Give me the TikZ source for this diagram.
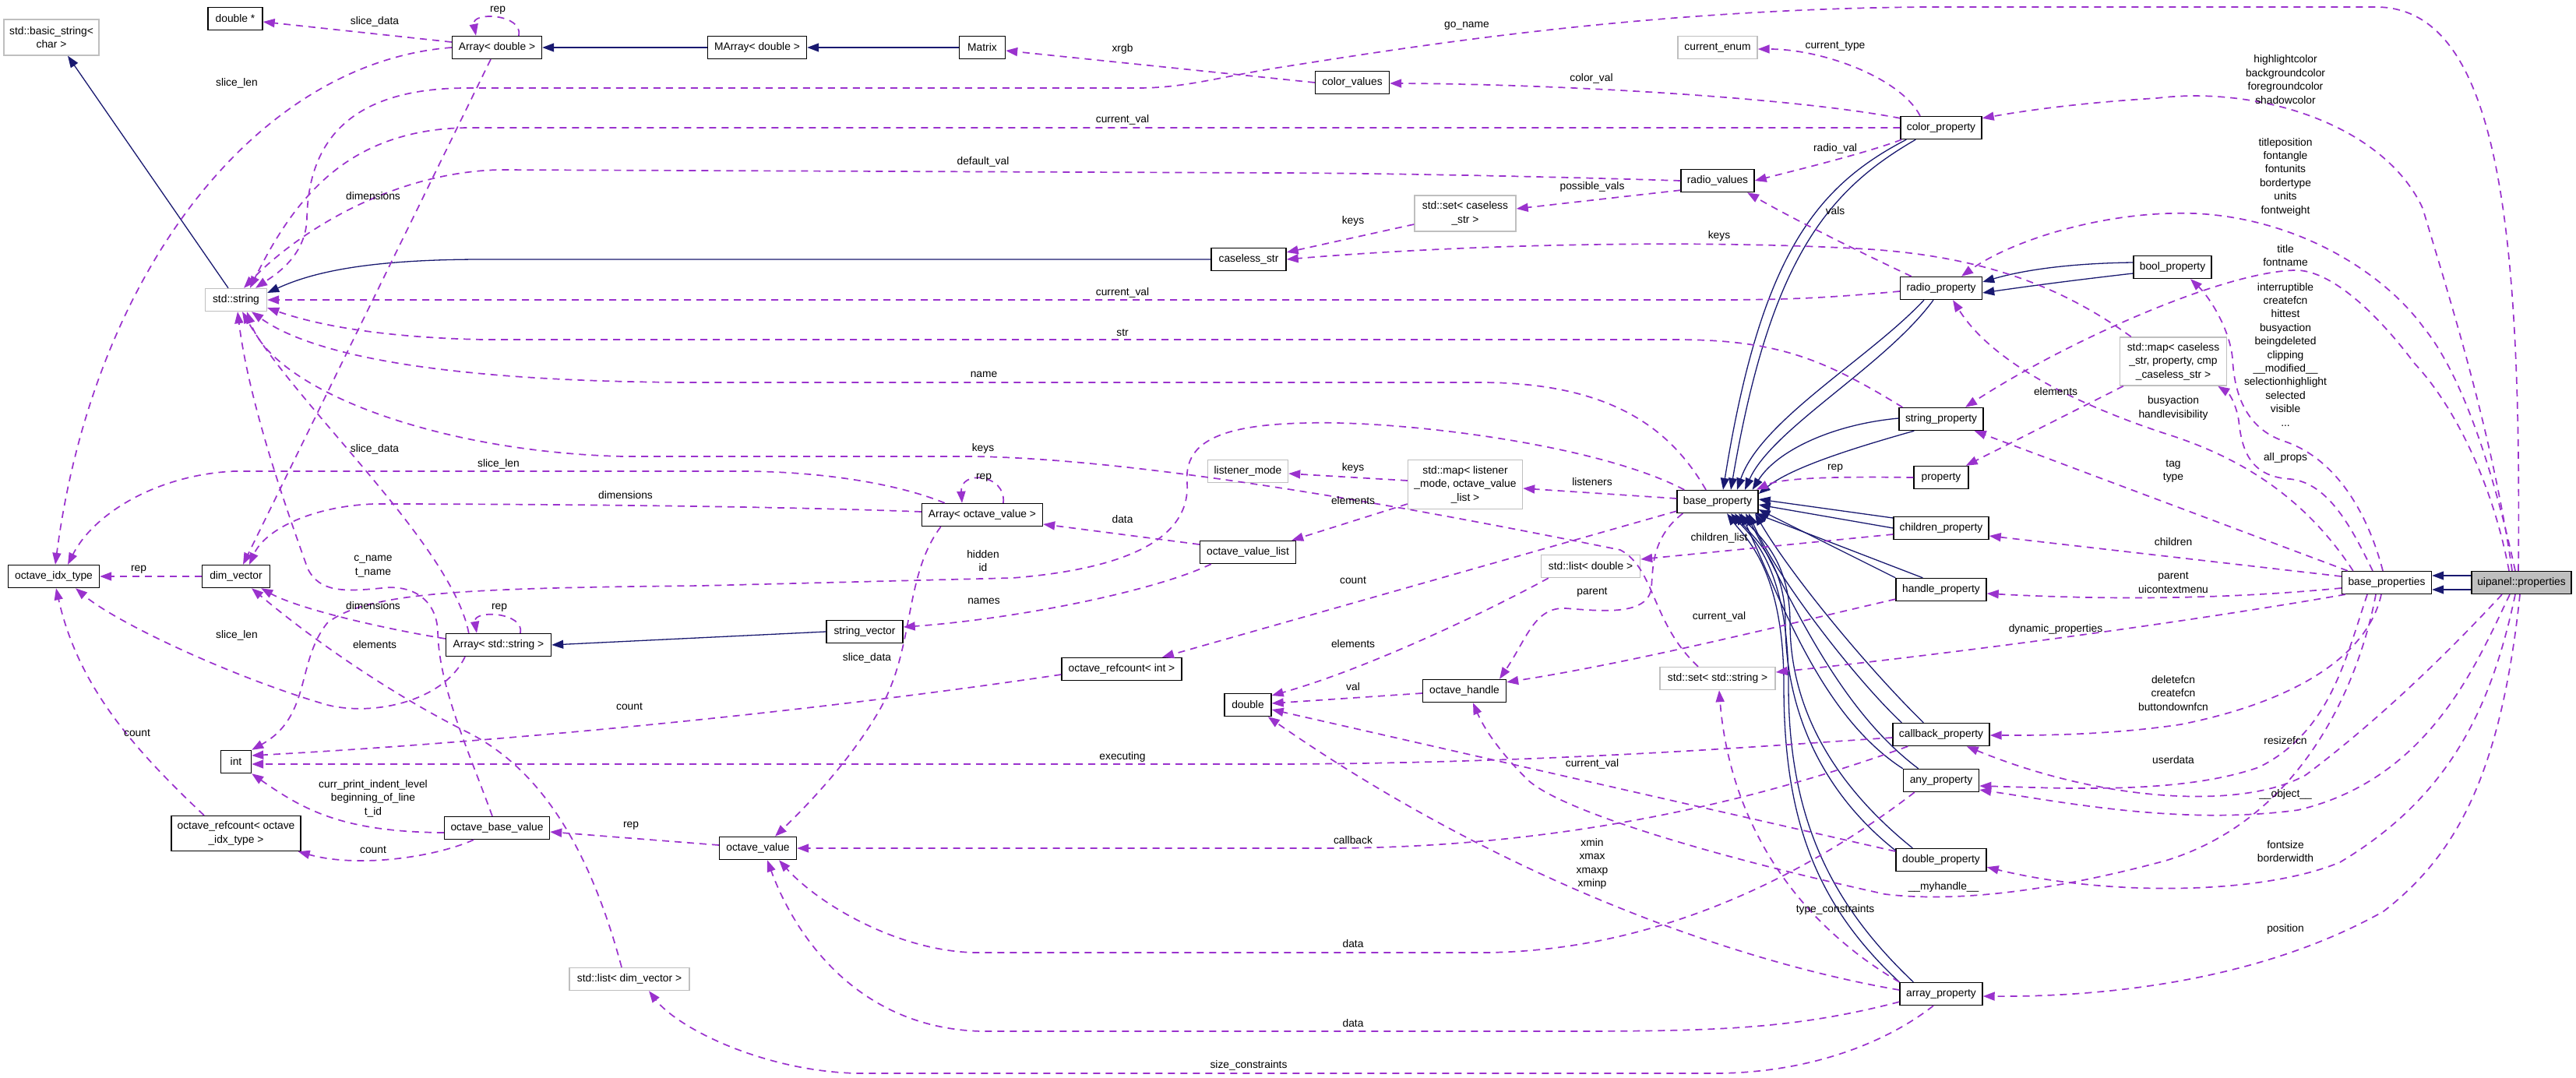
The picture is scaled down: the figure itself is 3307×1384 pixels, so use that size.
\documentclass[tikz,border=0pt]{standalone}
\usepackage{fontspec}
\setmainfont{Liberation Sans}
\usetikzlibrary{arrows.meta,calc}
\definecolor{navy}{HTML}{191970}
\definecolor{purp}{HTML}{9A32CD}
\definecolor{grayb}{HTML}{BFBFBF}
\newcommand{\dfont}{\fontsize{13.8pt}{17.4pt}\selectfont}
\tikzset{
 cls/.style={draw=black, line width=1.4pt, minimum height=29pt, inner sep=0pt, fill=white, font=\dfont, align=center},
 ext/.style={cls, draw=grayb},
 inh/.style={draw=navy, line width=1.3pt, -{Triangle[length=15pt,width=11pt]}},
 use/.style={draw=purp, line width=1.7pt, dash pattern=on 9pt off 7pt, -{Triangle[length=15pt,width=11pt]}},
 lbl/.style={font=\dfont, inner sep=0pt, align=center},
}
\begin{document}
\begin{tikzpicture}[x=1pt,y=-1pt]
\fill[white] (0,0) rectangle (3307,1384);
\useasboundingbox (0,0) rectangle (3307,1384);
% nodes
\node[ext, minimum width=122pt, minimum height=46pt] (bs) at (66,48) {std::basic\_string<\\char >};
\node[cls, minimum width=70pt] (dptr) at (302,24) {double *};
\node[cls, minimum width=115pt] (arrd) at (638,61) {Array< double >};
\node[cls, minimum width=127pt] (marr) at (972,61) {MArray< double >};
\node[cls, minimum width=59pt] (matrix) at (1261,61) {Matrix};
\node[cls, minimum width=95pt] (colv) at (1736,106) {color\_values};
\node[ext, minimum width=102pt] (cenum) at (2205,61) {current\_enum};
\node[cls, minimum width=104pt] (colp) at (2492,164) {color\_property};
\node[cls, minimum width=94pt] (radv) at (2205,232) {radio\_values};
\node[ext, minimum width=130pt, minimum height=46pt] (setcs) at (1881,274) {std::set< caseless\\\_str >};
\node[cls, minimum width=96pt] (cstr) at (1603,333) {caseless\_str};
\node[cls, minimum width=100pt] (boolp) at (2789,343) {bool\_property};
\node[cls, minimum width=105pt] (radp) at (2492,370) {radio\_property};
\node[ext, minimum width=79pt] (stdstr) at (303,385) {std::string};
\node[ext, minimum width=137pt, minimum height=62pt] (mapcs) at (2790,464) {std::map< caseless\\\_str, property, cmp\\\_caseless\_str >};
\node[cls, minimum width=108pt] (strp) at (2492,538) {string\_property};
\node[cls, minimum width=70pt] (propty) at (2492,613) {property};
\node[ext, minimum width=103pt] (lmode) at (1602,605) {listener\_mode};
\node[ext, minimum width=147pt, minimum height=63pt] (maplm) at (1881,622) {std::map< listener\\\_mode, octave\_value\\\_list >};
\node[cls, minimum width=104pt] (basep) at (2205,644) {base\_property};
\node[cls, minimum width=155pt] (arrov) at (1261,661) {Array< octave\_value >};
\node[cls, minimum width=122pt] (childp) at (2492,678) {children\_property};
\node[cls, minimum width=123pt] (ovl) at (1602,709) {octave\_value\_list};
\node[ext, minimum width=127pt] (listd) at (2042,727) {std::list< double >};
\node[cls, minimum width=117pt] (oit) at (69,740) {octave\_idx\_type};
\node[cls, minimum width=87pt] (dimv) at (303,740) {dim\_vector};
\node[cls, minimum width=115pt] (bprops) at (3064,748) {base\_properties};
\node[cls, minimum width=128pt, fill=grayb] (uip) at (3237,748) {uipanel::properties};
\node[cls, minimum width=116pt] (handp) at (2492,757) {handle\_property};
\node[cls, minimum width=98pt] (strvec) at (1110,811) {string\_vector};
\node[cls, minimum width=135pt] (arrstr) at (640,828) {Array< std::string >};
\node[cls, minimum width=154pt] (orint) at (1440,859) {octave\_refcount< int >};
\node[ext, minimum width=148pt] (setstr) at (2205,871) {std::set< std::string >};
\node[cls, minimum width=107pt] (oh) at (1880,887) {octave\_handle};
\node[cls, minimum width=60pt] (dbl) at (1602,905) {double};
\node[cls, minimum width=124pt] (cbp) at (2492,943) {callback\_property};
\node[cls, minimum width=39pt] (intn) at (303,978) {int};
\node[cls, minimum width=97pt] (anyp) at (2492,1002) {any\_property};
\node[cls, minimum width=135pt] (obv) at (638,1063) {octave\_base\_value};
\node[cls, minimum width=166pt, minimum height=45pt] (orit) at (303,1070) {octave\_refcount< octave\\\_idx\_type >};
\node[cls, minimum width=99pt] (ov) at (973,1089) {octave\_value};
\node[cls, minimum width=116pt] (dblp) at (2492,1104) {double\_property};
\node[ext, minimum width=154pt] (listdv) at (808,1257) {std::list< dim\_vector >};
\node[cls, minimum width=106pt] (arrp) at (2492,1276) {array\_property};

% inheritance
\draw[inh] ($(stdstr.north)+(-10,0)$) -- ($(bs.south)+(21,0)$);
\draw[inh] (marr.west) -- (arrd.east);
\draw[inh] (matrix.west) -- (marr.east);
\draw[inh] (cstr.west) -- (620,333) .. controls (470,333) and (400,350) .. ($(stdstr.east)+(0,-9)$);
\draw[inh] (strvec.west) -- (arrstr.east);
\draw[inh] ($(boolp.west)+(0,-6)$) .. controls (2660,338) and (2600,346) .. ($(radp.east)+(0,-8)$);
\draw[inh] ($(boolp.west)+(0,8)$) .. controls (2660,360) and (2600,368) .. ($(radp.east)+(0,6)$);
\draw[inh] ($(uip.west)+(0,-9)$) -- ($(bprops.east)+(0,-9)$);
\draw[inh] ($(uip.west)+(0,9)$) -- ($(bprops.east)+(0,9)$);
\draw[inh] ($(colp.south west)+(8,0)$) .. controls (2330,240) and (2260,330) .. ($(basep.north)+(7,0)$);
\draw[inh] ($(colp.south west)+(20,0)$) .. controls (2345,245) and (2272,335) .. ($(basep.north)+(17,0)$);
\draw[inh] ($(radp.south)+(-22,0)$) .. controls (2400,460) and (2260,540) .. ($(basep.north)+(25,0)$);
\draw[inh] ($(radp.south)+(-10,0)$) .. controls (2420,470) and (2275,550) .. ($(basep.north)+(35,0)$);
\draw[inh] ($(strp.west)+(0,-1)$) .. controls (2350,545) and (2280,580) .. ($(basep.north east)+(-8,0)$);
\draw[inh] ($(strp.south west)+(20,0)$) .. controls (2380,575) and (2300,600) .. ($(basep.east)+(0,-10)$);
\draw[inh] ($(childp.west)+(0,-13)$) -- ($(basep.east)+(0,-3)$);
\draw[inh] (childp.west) -- ($(basep.east)+(0,4)$);
\draw[inh] (handp.north west) -- ($(basep.east)+(0,10)$);
\draw[inh] ($(handp.north west)+(35,0)$) -- ($(basep.south east)+(-4,0)$);
\draw[inh] ($(cbp.north west)+(12,0)$) .. controls (2380,870) and (2280,740) .. ($(basep.south)+(40,0)$);
\draw[inh] ($(cbp.north west)+(40,0)$) .. controls (2400,860) and (2300,740) .. ($(basep.south)+(48,0)$);
\draw[inh] (anyp.north west) .. controls (2340,920) and (2290,780) .. ($(basep.south)+(30,0)$);
\draw[inh] ($(anyp.north west)+(20,0)$) .. controls (2360,910) and (2300,770) .. ($(basep.south)+(36,0)$);
\draw[inh] ($(dblp.north west)+(0,3)$) .. controls (2330,1010) and (2292,900) .. (2292,800) .. controls (2292,720) and (2250,690) .. ($(basep.south)+(22,0)$);
\draw[inh] ($(dblp.north west)+(22,0)$) .. controls (2345,1000) and (2298,900) .. (2298,800) .. controls (2298,720) and (2260,690) .. ($(basep.south)+(27,0)$);
\draw[inh] (arrp.north west) .. controls (2330,1160) and (2290,1050) .. (2290,880) .. controls (2290,730) and (2240,690) .. ($(basep.south)+(12,0)$);
\draw[inh] ($(arrp.north west)+(18,0)$) .. controls (2350,1160) and (2296,1050) .. (2296,880) .. controls (2296,730) and (2250,690) .. ($(basep.south)+(17,0)$);

% usage
\draw[use] ($(arrd.west)+(0,-7)$) -- ($(dptr.east)+(0,4)$);
\draw[use] ($(arrd.north)+(28,0)$) .. controls (672,18) and (605,14) .. ($(arrd.north)+(-27,0)$);
\draw[use] (arrd.west) .. controls (330,80) and (120,350) .. ($(oit.north)+(2,0)$);
\draw[use] ($(arrd.south)+(-8,0)$) -- ($(dimv.north)+(9,0)$);
\draw[use] ($(uip.north)+(-4,0)$) .. controls (3237,300) and (3210,9) .. (3050,9) -- (2470,9) .. controls (2100,12) and (1800,62) .. (1640,87) .. controls (1560,100) and (1520,113) .. (1460,113) -- (600,113) .. controls (440,113) and (396,190) .. (394,280) .. controls (393,330) and (350,355) .. ($(stdstr.north)+(25,0)$);
\draw[use] (colp.west) -- (600,164) .. controls (450,166) and (380,250) .. ($(stdstr.north)+(18,0)$);
\draw[use] (radv.west) .. controls (1900,224) and (1700,222) .. (1640,222) -- (640,218) .. controls (500,222) and (380,300) .. ($(stdstr.north)+(10,0)$);
\draw[use] (colv.west) -- ($(matrix.east)+(0,4)$);
\draw[use] ($(colp.north west)+(0,3)$) .. controls (2300,125) and (2000,108) .. ($(colv.east)+(0,1)$);
\draw[use] ($(colp.north)+(-27,0)$) .. controls (2440,100) and (2340,63) .. ($(cenum.east)+(0,2)$);
\draw[use] ($(colp.south west)+(2,0)$) .. controls (2400,195) and (2320,215) .. (radv.east);
\draw[use] ($(radp.north west)+(15,0)$) .. controls (2380,320) and (2300,280) .. ($(radv.south)+(38,0)$);
\draw[use] ($(radv.south west)+(0,-3)$) -- ($(setcs.east)+(0,-6)$);
\draw[use] ($(setcs.west)+(0,14)$) -- ($(cstr.east)+(0,-9)$);
\draw[use] ($(mapcs.north west)+(15,0)$) .. controls (2650,370) and (2550,330) .. (2400,320) .. controls (2200,308) and (1900,312) .. (cstr.east);
\draw[use] ($(radp.west)+(0,4)$) .. controls (2350,382) and (2300,385) .. (2200,385) -- (stdstr.east);
\draw[use] ($(strp.north west)+(5,0)$) .. controls (2340,460) and (2280,436) .. (2150,436) -- (620,436) .. controls (480,433) and (400,415) .. ($(stdstr.south east)+(0,-5)$);
\draw[use] ($(basep.north)+(-15,0)$) .. controls (2150,560) and (2080,491) .. (1900,491) -- (900,491) .. controls (650,491) and (420,470) .. ($(stdstr.south)+(20,0)$);
\draw[use] ($(setstr.north)+(-25,0)$) .. controls (2120,800) and (2125,730) .. (2080,706) .. controls (1900,670) and (1500,590) .. (1250,586) -- (800,586) .. controls (560,580) and (350,500) .. ($(stdstr.south)+(14,0)$);
\draw[use] ($(arrstr.north west)+(30,0)$) .. controls (580,700) and (380,520) .. ($(stdstr.south)+(8,0)$);
\draw[use] ($(obv.north)+(-6,0)$) .. controls (600,960) and (563,880) .. (562,810) .. controls (560,770) and (530,750) .. (490,755) .. controls (440,760) and (410,760) .. (395,730) .. controls (370,660) and (320,520) .. ($(stdstr.south)+(2,0)$);
\draw[use] ($(arrstr.west)+(0,-8)$) .. controls (480,805) and (380,780) .. ($(dimv.south east)+(-12,0)$);
\draw[use] ($(arrov.west)+(0,-4)$) .. controls (1000,650) and (700,647) .. (480,647) .. controls (400,650) and (340,680) .. ($(dimv.north)+(17,0)$);
\draw[use] ($(arrov.north west)+(30,0)$) .. controls (1150,620) and (1050,605) .. (950,605) -- (300,605) .. controls (200,610) and (120,660) .. ($(oit.north)+(18,0)$);
\draw[use] ($(arrov.north)+(27,0)$) .. controls (1292,608) and (1232,603) .. ($(arrov.north)+(-26,0)$);
\draw[use] ($(arrstr.north)+(28,0)$) .. controls (674,786) and (607,782) .. ($(arrstr.north)+(-28,0)$);
\draw[use] (dimv.west) -- (oit.east);
\draw[use] ($(listdv.north)+(-10,0)$) .. controls (760,1100) and (700,990) .. (600,940) .. controls (500,890) and (400,820) .. ($(dimv.south)+(20,0)$);
\draw[use] ($(arrstr.south)+(-43,0)$) .. controls (570,900) and (480,920) .. (420,905) .. controls (300,870) and (150,800) .. ($(oit.south)+(28,0)$);
\draw[use] ($(orit.north)+(-41,0)$) .. controls (170,960) and (100,880) .. ($(oit.south)+(3,0)$);
\draw[use] ($(basep.north west)+(10,0)$) .. controls (2050,570) and (1800,540) .. (1680,543) .. controls (1560,545) and (1520,570) .. (1524,620) .. controls (1528,690) and (1450,730) .. (1300,742) -- (900,752) .. controls (600,755) and (470,760) .. (420,800) .. controls (380,850) and (400,920) .. (intn.north east);
\draw[use] ($(orint.west)+(0,7)$) .. controls (1000,920) and (600,955) .. ($(intn.east)+(0,-8)$);
\draw[use] ($(cbp.west)+(0,4)$) .. controls (2300,955) and (2000,980) .. (1640,981) -- ($(intn.east)+(0,3)$);
\draw[use] ($(obv.west)+(0,6)$) .. controls (440,1068) and (390,1040) .. (intn.south east);
\draw[use] ($(obv.south)+(-30,0)$) .. controls (560,1100) and (460,1115) .. ($(orit.south east)+(-4,0)$);
\draw[use] ($(ov.west)+(0,-4)$) -- ($(obv.east)+(0,5)$);
\draw[use] ($(ovl.west)+(0,-10)$) -- ($(arrov.east)+(0,12)$);
\draw[use] ($(ovl.south west)+(15,0)$) .. controls (1480,760) and (1300,795) .. ($(strvec.east)+(0,-6)$);
\draw[use] ($(arrov.south west)+(25,0)$) .. controls (1160,740) and (1175,830) .. (1130,910) .. controls (1090,980) and (1030,1040) .. ($(ov.north)+(22,0)$);
\draw[use] ($(basep.west)+(0,-4)$) -- ($(maplm.east)+(0,5)$);
\draw[use] ($(maplm.west)+(0,-5)$) -- ($(lmode.east)+(0,3)$);
\draw[use] ($(maplm.west)+(0,25)$) -- ($(ovl.north east)+(-6,0)$);
\draw[use] ($(basep.south west)+(0,-3)$) -- ($(orint.north)+(52,0)$);
\draw[use] ($(childp.west)+(0,8)$) -- ($(listd.east)+(0,-9)$);
\draw[use] ($(basep.south west)+(8,0)$) .. controls (2120,690) and (2122,730) .. (2120,755) .. controls (2115,790) and (2060,785) .. (2010,781) .. controls (1970,779) and (1960,820) .. ($(oh.north)+(45,0)$);
\draw[use] ($(handp.south west)+(0,-3)$) .. controls (2300,800) and (2100,850) .. ($(oh.north east)+(0,4)$);
\draw[use] ($(listd.south west)+(10,0)$) .. controls (1900,790) and (1750,860) .. ($(dbl.east)+(0,-12)$);
\draw[use] ($(oh.west)+(0,3)$) -- ($(dbl.east)+(0,-2)$);
\draw[use] ($(dblp.west)+(0,-11)$) -- ($(dbl.east)+(0,6)$);
\draw[use] ($(arrp.west)+(0,-5)$) .. controls (2200,1230) and (1900,1110) .. ($(dbl.south east)+(-5,0)$);
\draw[use] (arrp.north west) .. controls (2300,1180) and (2220,1050) .. ($(setstr.south)+(2,0)$);
\draw[use] ($(bprops.south west)+(5,0)$) .. controls (2800,800) and (2500,840) .. ($(setstr.east)+(0,-8)$);
\draw[use] ($(cbp.south west)+(20,0)$) .. controls (2250,1030) and (2000,1089) .. (1700,1089) -- (ov.east);
\draw[use] ($(anyp.south west)+(15,0)$) .. controls (2350,1100) and (2150,1223) .. (1900,1223) -- (1250,1223) .. controls (1150,1220) and (1050,1160) .. ($(ov.south)+(27,0)$);
\draw[use] ($(arrp.south west)+(0,-5)$) .. controls (2300,1322) and (2200,1324) .. (2000,1324) -- (1260,1324) .. controls (1100,1320) and (1020,1200) .. ($(ov.south)+(12,0)$);
\draw[use] ($(arrp.south)+(-10,0)$) .. controls (2420,1340) and (2320,1378) .. (2200,1378) -- (1100,1378) .. controls (980,1375) and (870,1320) .. ($(listdv.south)+(25,0)$);
\draw[use] ($(uip.north)+(-12,0)$) .. controls (3200,560) and (3150,400) .. (3110,267) .. controls (3060,160) and (2900,110) .. (2769,126) .. controls (2670,132) and (2600,142) .. ($(colp.north east)+(0,3)$);
\draw[use] ($(uip.north)+(-8,0)$) .. controls (3200,600) and (3160,480) .. (3111,420) .. controls (3060,350) and (2950,280) .. (2817,274) .. controls (2700,270) and (2580,310) .. ($(radp.north)+(26,0)$);
\draw[use] ($(uip.north)+(-16,0)$) .. controls (3200,620) and (3150,520) .. (3100,467) .. controls (3050,400) and (2990,345) .. (2945,347) .. controls (2850,350) and (2650,440) .. ($(strp.north)+(31,0)$);
\draw[use] ($(bprops.north)+(-5,0)$) .. controls (3040,660) and (3000,590) .. (2934,567) .. controls (2880,550) and (2868,500) .. (2866,460) .. controls (2862,420) and (2835,380) .. ($(boolp.south)+(23,0)$);
\draw[use] ($(bprops.north)+(-18,0)$) .. controls (3020,680) and (2990,620) .. (2940,615) .. controls (2890,612) and (2878,580) .. (2874,540) .. controls (2871,520) and (2862,505) .. ($(mapcs.south east)+(-12,0)$);
\draw[use] ($(bprops.north west)+(15,0)$) .. controls (2960,640) and (2880,590) .. (2790,560) .. controls (2680,525) and (2560,470) .. ($(radp.south)+(15,0)$);
\draw[use] ($(mapcs.south west)+(5,0)$) -- ($(propty.north east)+(-4,0)$);
\draw[use] ($(bprops.north west)+(8,0)$) -- ($(strp.south east)+(-12,0)$);
\draw[use] ($(bprops.west)+(0,-8)$) -- ($(childp.east)+(0,10)$);
\draw[use] ($(bprops.west)+(0,7)$) .. controls (2850,770) and (2700,770) .. ($(handp.east)+(0,5)$);
\draw[use] ($(bprops.south)+(-7,0)$) .. controls (3040,840) and (2950,900) .. (2800,930) .. controls (2700,945) and (2600,944) .. ($(cbp.east)+(0,1)$);
\draw[use] ($(uip.south)+(-25,0)$) .. controls (3150,830) and (3060,920) .. (2960,995) .. controls (2880,1040) and (2700,1030) .. ($(cbp.south east)+(-30,0)$);
\draw[use] ($(bprops.south)+(-25,0)$) .. controls (3010,850) and (2990,940) .. (2900,985) .. controls (2800,1020) and (2650,1012) .. ($(anyp.east)+(0,7)$);
\draw[use] ($(uip.south)+(-15,0)$) .. controls (3180,850) and (3120,1000) .. (2950,1040) .. controls (2800,1060) and (2650,1030) .. ($(anyp.east)+(0,12)$);
\draw[use] ($(uip.south)+(-8,0)$) .. controls (3200,900) and (3150,1020) .. (3004,1107) .. controls (2900,1150) and (2700,1150) .. ($(dblp.south east)+(0,-6)$);
\draw[use] ($(uip.south)+(-2,0)$) .. controls (3210,1000) and (3150,1100) .. (3060,1170) .. controls (2900,1260) and (2700,1280) .. ($(arrp.east)+(0,3)$);
\draw[use] ($(bprops.south)+(-14,0)$) .. controls (3030,870) and (2960,1050) .. (2780,1105) .. controls (2650,1140) and (2520,1160) .. (2420,1148) .. controls (2200,1100) and (2000,1040) .. (1960,1000) .. controls (1925,965) and (1905,935) .. ($(oh.south)+(11,0)$);
\draw[use] (propty.west) .. controls (2380,612) and (2290,612) .. ($(basep.north east)+(-3,0)$);

% labels
\node[lbl] (l1) at (639,13) {rep};
\node[lbl] (l2) at (481,28) {slice\_data};
\node[lbl] (l3) at (304,107) {slice\_len};
\node[lbl] (l4) at (479,252) {dimensions};
\node[lbl] (l5) at (1883,33) {go\_name};
\node[lbl] (l6) at (1441,63) {xrgb};
\node[lbl] (l7) at (2356,59) {current\_type};
\node[lbl] (l8) at (2043,101) {color\_val};
\node[lbl] (l9) at (1441,154) {current\_val};
\node[lbl] (l10) at (2356,191) {radio\_val};
\node[lbl] (l11) at (1262,208) {default\_val};
\node[lbl] (l12) at (2044,240) {possible\_vals};
\node[lbl] (l13) at (2356,271) {vals};
\node[lbl] (l14) at (1737,284) {keys};
\node[lbl] (l15) at (2207,303) {keys};
\node[lbl] (l16) at (1441,376) {current\_val};
\node[lbl] (l17) at (1441,427) {str};
\node[lbl] (l18) at (1263,481) {name};
\node[lbl] (l19) at (2639,503) {elements};
\node[lbl] (l20) at (2790,524) {busyaction\\handlevisibility};
\node[lbl] (l21) at (1262,576) {keys};
\node[lbl] (l22) at (481,577) {slice\_data};
\node[lbl] (l23) at (640,596) {slice\_len};
\node[lbl] (l24) at (1737,601) {keys};
\node[lbl] (l25) at (2790,605) {tag\\type};
\node[lbl] (l26) at (1263,613) {rep};
\node[lbl] (l27) at (2044,619) {listeners};
\node[lbl] (l28) at (803,636) {dimensions};
\node[lbl] (l29) at (1737,643) {elements};
\node[lbl] (l30) at (1441,667) {data};
\node[lbl] (l31) at (2356,601) {rep};
\node[lbl] (l32) at (2207,691) {children\_list};
\node[lbl] (l33) at (1262,720) {hidden\\id};
\node[lbl] (l34) at (1737,745) {count};
\node[lbl] (l35) at (2790,696) {children};
\node[lbl] (l36) at (479,727) {c\_name\\t\_name};
\node[lbl] (l37) at (178,731) {rep};
\node[lbl] (l38) at (2790,748) {parent\\uicontextmenu};
\node[lbl] (l39) at (2044,760) {parent};
\node[lbl] (l40) at (1263,772) {names};
\node[lbl] (l41) at (479,778) {dimensions};
\node[lbl] (l42) at (641,780) {rep};
\node[lbl] (l43) at (2207,792) {current\_val};
\node[lbl] (l44) at (2639,808) {dynamic\_properties};
\node[lbl] (l45) at (304,816) {slice\_len};
\node[lbl] (l46) at (1737,827) {elements};
\node[lbl] (l47) at (481,828) {elements};
\node[lbl] (l48) at (1113,845) {slice\_data};
\node[lbl] (l49) at (1737,882) {val};
\node[lbl] (l50) at (2790,890) {deletefcn\\createfcn\\buttondownfcn};
\node[lbl] (l51) at (808,907) {count};
\node[lbl] (l52) at (176,941) {count};
\node[lbl] (l53) at (2934,951) {resizefcn};
\node[lbl] (l54) at (1441,972) {executing};
\node[lbl] (l55) at (2790,976) {userdata};
\node[lbl] (l56) at (2044,981) {current\_val};
\node[lbl] (l57) at (479,1025) {curr\_print\_indent\_level\\beginning\_of\_line\\t\_id};
\node[lbl] (l58) at (2934,1020) {\_\_object\_\_};
\node[lbl] (l59) at (810,1060) {rep};
\node[lbl] (l60) at (1737,1079) {callback};
\node[lbl] (l61) at (2934,1093) {fontsize\\borderwidth};
\node[lbl] (l62) at (479,1091) {count};
\node[lbl] (l63) at (2044,1109) {xmin\\xmax\\xmaxp\\xminp};
\node[lbl] (l64) at (2495,1139) {\_\_myhandle\_\_};
\node[lbl] (l65) at (2356,1168) {type\_constraints};
\node[lbl] (l66) at (2934,1193) {position};
\node[lbl] (l67) at (1737,1212) {data};
\node[lbl] (l68) at (1737,1314) {data};
\node[lbl] (l69) at (1603,1368) {size\_constraints};
\node[lbl] (l70) at (2934,102) {highlightcolor\\backgroundcolor\\foregroundcolor\\shadowcolor};
\node[lbl] (l71) at (2934,227) {titleposition\\fontangle\\fontunits\\bordertype\\units\\fontweight};
\node[lbl] (l72) at (2934,328) {title\\fontname};
\node[lbl] (l73) at (2934,455) {interruptible\\createfcn\\hittest\\busyaction\\beingdeleted\\clipping\\\_\_modified\_\_\\selectionhighlight\\selected\\visible\\...};
\node[lbl] (l74) at (2934,588) {all\_props};
\end{tikzpicture}
\end{document}
